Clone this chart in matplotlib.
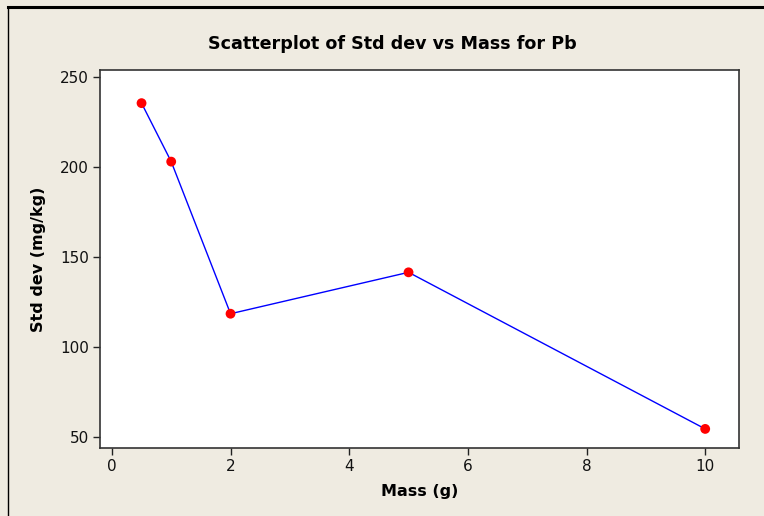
import numpy as np
import matplotlib
matplotlib.use('Agg')
import matplotlib.pyplot as plt
from matplotlib.lines import Line2D

# data
mass = [0.5, 1, 2, 5, 10]
std_dev = [235.5, 203, 118.5, 141.5, 54.5]
x_ticks = [0, 2, 4, 6, 8, 10]
y_ticks = [50, 100, 150, 200, 250]

bg = '#efebe1'
plt.rcParams['font.family'] = ['DejaVu Sans']

fig = plt.figure(figsize=(7.64, 5.16), dpi=100, facecolor=bg)
ax = fig.add_axes([0.1309, 0.1318, 0.8364, 0.7325])
ax.set_facecolor('white')

ax.plot(mass, std_dev, color='#0000ff', linewidth=1.0, zorder=2)
ax.scatter(mass, std_dev, color='#ff0000', s=50, zorder=3, edgecolors='none')

ax.set_xlim(-0.2, 10.57)
ax.set_ylim(43.9, 253.9)
ax.set_xticks(x_ticks)
ax.set_yticks(y_ticks)
ax.tick_params(direction='out', length=5, width=1, color='#222222',
               labelsize=11, labelcolor='#111111', pad=3)
for s in ax.spines.values():
    s.set_color('#333333')
    s.set_linewidth(1.2)

ax.set_xlabel('Mass (g)', fontsize=11.5, fontweight='bold', labelpad=7)
ax.set_ylabel('Std dev (mg/kg)', fontsize=11.5, fontweight='bold', labelpad=10)
fig.text(0.513, 0.915, 'Scatterplot of Std dev vs Mass for Pb',
         ha='center', va='center', fontsize=12.6, fontweight='bold')

# outer frame lines (top and left)
fig.add_artist(Line2D([0.0105, 1.0], [0.987, 0.987], color='black',
                      linewidth=2.2, transform=fig.transFigure))
fig.add_artist(Line2D([0.0105, 0.0105], [0.0, 0.987], color='black',
                      linewidth=1.0, transform=fig.transFigure))

fig.savefig('out.png', dpi=100, facecolor=bg)
plt.close(fig)
